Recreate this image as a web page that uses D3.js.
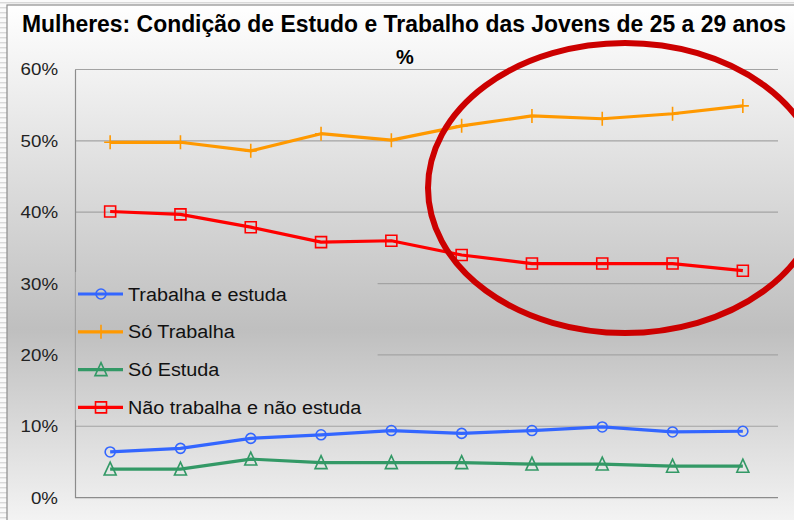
<!DOCTYPE html>
<html>
<head>
<meta charset="utf-8">
<script src="https://cdn.jsdelivr.net/npm/d3@7"></script>
<style>
  body { margin: 0; background: #fff; }
  svg { display: block; font-family: Arial, "Liberation Sans", sans-serif; }
</style>
</head>
<body>
<div id="chart"></div>
<script>
// data (%)
var years = ["1996", "1997", "1998", "1999", "2001", "2002", "2003", "2004", "2005", "2006"];
var trabalhaEstuda = [6.4, 6.9, 8.3, 8.8, 9.4, 9.0, 9.4, 9.9, 9.2, 9.3];
var soTrabalha = [49.8, 49.8, 48.6, 51.0, 50.1, 52.1, 53.5, 53.1, 53.8, 54.9];
var soEstuda = [4.0, 4.0, 5.4, 4.9, 4.9, 4.9, 4.7, 4.7, 4.4, 4.4];
var naoTrabalha = [40.1, 39.7, 37.9, 35.8, 36.0, 34.0, 32.8, 32.8, 32.8, 31.8];
var yTicks = [0, 10, 20, 30, 40, 50, 60];

var series = [
  { name: "Trabalha e estuda", values: trabalhaEstuda, color: "#3366ff", marker: "circle" },
  { name: "Só Trabalha", values: soTrabalha, color: "#ff9900", marker: "plus" },
  { name: "Só Estuda", values: soEstuda, color: "#339966", marker: "triangle" },
  { name: "Não trabalha e não estuda", values: naoTrabalha, color: "#ff0000", marker: "square" }
];

var width = 794, height = 520;
var plot = { left: 75, right: 778, top: 69.5, bottom: 497.6 };

var svg = d3.select("#chart").append("svg")
  .attr("width", width)
  .attr("height", height);

var defs = svg.append("defs");

// striped slide background
var pat = defs.append("pattern")
  .attr("id", "stripes")
  .attr("patternUnits", "userSpaceOnUse")
  .attr("width", 10).attr("height", 5);
pat.append("rect").attr("width", 10).attr("height", 5).attr("fill", "#fafafa");
pat.append("rect").attr("y", 2).attr("width", 10).attr("height", 1.4).attr("fill", "#d9d9d9");

var grad = defs.append("linearGradient")
  .attr("id", "bg")
  .attr("gradientUnits", "userSpaceOnUse")
  .attr("x1", 0).attr("y1", 5).attr("x2", 0).attr("y2", 520);
grad.append("stop").attr("offset", "0").attr("stop-color", "#ffffff");
grad.append("stop").attr("offset", "0.12").attr("stop-color", "#f3f3f3");
grad.append("stop").attr("offset", "0.63").attr("stop-color", "#bfbfbf");
grad.append("stop").attr("offset", "1").attr("stop-color", "#f3f3f3");

svg.append("rect").attr("width", width).attr("height", height).attr("fill", "url(#stripes)");
svg.append("rect")
  .attr("x", 7).attr("y", 5)
  .attr("width", width).attr("height", height)
  .attr("fill", "url(#bg)")
  .attr("stroke", "#8c8c8c")
  .attr("stroke-width", 1.2);

var x = d3.scalePoint()
  .domain(years)
  .range([plot.left, plot.right])
  .padding(0.5);

var y = d3.scaleLinear()
  .domain([0, 60])
  .range([plot.bottom, plot.top]);

// text in the picture is a little wider than Arial
function widen(sel, k) {
  sel.each(function () {
    var len = this.getComputedTextLength();
    d3.select(this).attr("textLength", len * k).attr("lengthAdjust", "spacingAndGlyphs");
  });
}

// gridlines
svg.append("g").selectAll("line")
  .data(yTicks.filter(function (d) { return d > 0; }))
  .enter().append("line")
  .attr("x1", plot.left).attr("x2", plot.right)
  .attr("y1", function (d) { return y(d); })
  .attr("y2", function (d) { return y(d); })
  .attr("stroke", "#a3a3a3")
  .attr("stroke-width", 1.2);

// y axis labels
var yAxis = svg.append("g")
  .attr("transform", "translate(" + plot.left + ",0)")
  .call(d3.axisLeft(y).tickValues(yTicks).tickSize(0).tickPadding(17)
    .tickFormat(function (d) { return d + "%"; }));
yAxis.select(".domain").attr("stroke", "#8c8c8c").attr("stroke-width", 1.2);
yAxis.selectAll("text")
  .attr("font-size", 17)
  .attr("fill", "#222")
  .attr("font-family", "Arial, 'Liberation Sans', sans-serif")
  .call(widen, 1.1);

// x axis (labels fall below the cropped edge)
var xAxis = svg.append("g")
  .attr("transform", "translate(0," + plot.bottom + ")")
  .call(d3.axisBottom(x).tickSize(0).tickPadding(22.5));
xAxis.select(".domain")
  .attr("d", "M" + plot.left + ",0H" + plot.right)
  .attr("stroke", "#8c8c8c").attr("stroke-width", 1.2);
xAxis.selectAll("text")
  .attr("font-size", 17)
  .attr("fill", "#444")
  .attr("font-family", "Arial, 'Liberation Sans', sans-serif");

function markerPath(type) {
  if (type == "circle") return d3.symbol().type(d3.symbolCircle).size(Math.PI * 25)();
  if (type == "plus") return "M-6,0H6M0,-7V7";
  if (type == "triangle") return "M0,-7L6,6H-6Z";
  return "M-5.5,-5.5H5.5V5.5H-5.5Z";
}

var line = d3.line()
  .x(function (d, i) { return x(years[i]); })
  .y(function (d) { return y(d); });

// legend box covers the gridlines behind it
svg.append("rect")
  .attr("x", plot.left + 0.6).attr("y", 272)
  .attr("width", 302).attr("height", 148)
  .attr("fill", "url(#bg)");

series.forEach(function (s) {
  var g = svg.append("g");
  g.append("path")
    .attr("d", line(s.values))
    .attr("fill", "none")
    .attr("stroke", s.color)
    .attr("stroke-width", 3.2)
    .attr("stroke-linejoin", "round");
  g.selectAll(".mk")
    .data(s.values)
    .enter().append("path")
    .attr("class", "mk")
    .attr("d", markerPath(s.marker))
    .attr("transform", function (d, i) { return "translate(" + x(years[i]) + "," + y(d) + ")"; })
    .attr("fill", "none")
    .attr("stroke", s.color)
    .attr("stroke-width", 1.6);
});

// legend
var legend = svg.append("g");
var rows = legend.selectAll("g")
  .data(series)
  .enter().append("g")
  .attr("transform", function (d, i) { return "translate(78," + (294 + i * 37.8) + ")"; });
rows.append("line")
  .attr("x1", 0).attr("x2", 45)
  .attr("stroke", function (d) { return d.color; })
  .attr("stroke-width", 3.2);
rows.append("path")
  .attr("d", function (d) { return markerPath(d.marker); })
  .attr("transform", "translate(23,0)")
  .attr("fill", "none")
  .attr("stroke", function (d) { return d.color; })
  .attr("stroke-width", 1.6);
rows.append("text")
  .attr("x", 50).attr("y", 6.5)
  .attr("font-size", 18)
  .attr("fill", "#111")
  .text(function (d) { return d.name; })
  .call(widen, 1.1);

// title
var title = svg.append("text")
  .attr("x", 404).attr("y", 32)
  .attr("text-anchor", "middle")
  .attr("font-size", 23)
  .attr("font-weight", "bold")
  .attr("fill", "#000")
  .text("Mulheres: Condição de Estudo e Trabalho das Jovens de 25 a 29 anos");
title.attr("textLength", 764).attr("lengthAdjust", "spacingAndGlyphs");
svg.append("text")
  .attr("x", 405).attr("y", 64)
  .attr("text-anchor", "middle")
  .attr("font-size", 20)
  .attr("font-weight", "bold")
  .attr("fill", "#000")
  .text("%");

// highlight ellipse
svg.append("ellipse")
  .attr("cx", 625).attr("cy", 188)
  .attr("rx", 197).attr("ry", 145)
  .attr("fill", "none")
  .attr("stroke", "#cc0000")
  .attr("stroke-width", 6);
</script>
</body>
</html>
